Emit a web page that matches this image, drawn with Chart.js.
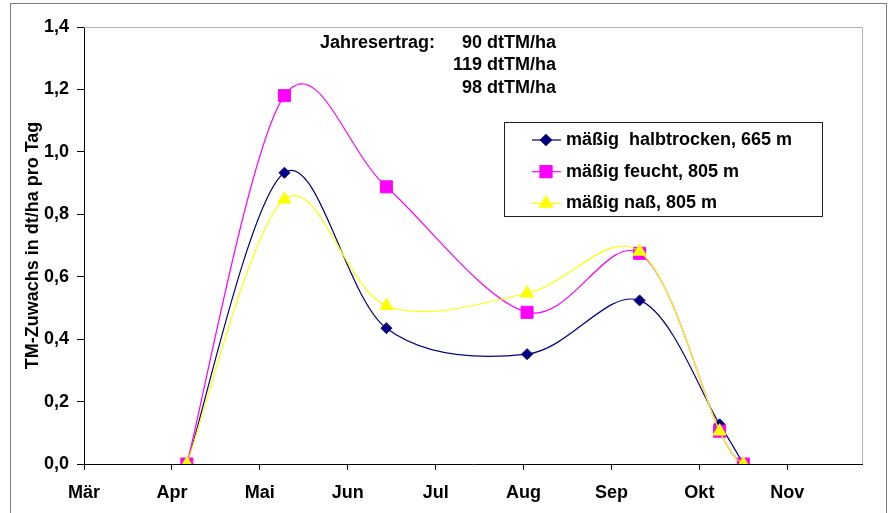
<!DOCTYPE html>
<html lang="de">
<head>
<meta charset="utf-8">
<title>TM-Zuwachs</title>
<script src="https://cdn.jsdelivr.net/npm/chart.js@4.4.1/dist/chart.umd.min.js"></script>
<style>
    html, body { margin: 0; padding: 0; background: #fff; }
    .chart-box { position: relative; width: 888px; height: 513px; }
</style>
</head>
<body>
<div class="chart-box"><canvas id="chart"></canvas></div>
<script>
// Chart data (x = months after 1 March)
const monthLabels = ['Mär', 'Apr', 'Mai', 'Jun', 'Jul', 'Aug', 'Sep', 'Okt', 'Nov'];
const samplePos = [1.17, 2.28, 3.44, 5.04, 6.32, 7.23, 7.5];
const halbtrocken = [0, 0.933, 0.435, 0.352, 0.524, 0.127, 0];
const feucht = [0, 1.18, 0.888, 0.486, 0.675, 0.105, 0];
const nass = [0, 0.848, 0.507, 0.547, 0.681, 0.105, 0];
const seriesNames = ['mäßig  halbtrocken, 665 m', 'mäßig feucht, 805 m', 'mäßig naß, 805 m'];
const ertragLabel = 'Jahresertrag:';
const ertragValues = ['90 dtTM/ha', '119 dtTM/ha', '98 dtTM/ha'];
const yTicks = [0, 0.2, 0.4, 0.6, 0.8, 1.0, 1.2, 1.4];

const FONT = "'Liberation Sans', Arial, sans-serif";
const FONT_SIZE = 18;
Chart.defaults.font.family = FONT;
Chart.defaults.font.size = FONT_SIZE;
Chart.defaults.font.weight = 'bold';
Chart.defaults.color = '#000';

function toPoints(values) {
    return values.map((v, i) => ({ x: samplePos[i], y: v }));
}

const seriesStyles = [
    { color: '#000080', pointStyle: 'rectRot', radius: 5.5 },
    { color: '#FF00FF', pointStyle: 'rect', radius: 8.5 },
    { color: '#FFFF00', pointStyle: 'triangle', radius: 7.5 }
];

const datasets = [halbtrocken, feucht, nass].map((values, i) => ({
    label: seriesNames[i],
    data: toPoints(values),
    borderColor: seriesStyles[i].color,
    backgroundColor: seriesStyles[i].color,
    borderWidth: 1.2,
    pointStyle: seriesStyles[i].pointStyle,
    pointRadius: seriesStyles[i].radius,
    pointBorderWidth: 1,
    tension: 0.4,
    order: 2 - i
}));

// Excel-like smoothing: control points = neighbour difference / 6
const smoothPlugin = {
    id: 'excelSmooth',
    beforeDatasetsDraw(chart) {
        chart.getSortedVisibleDatasetMetas().forEach(meta => {
            const pts = meta.data;
            pts.forEach((p, i) => {
                const prev = pts[Math.max(i - 1, 0)];
                const next = pts[Math.min(i + 1, pts.length - 1)];
                const dx = (next.x - prev.x) / 6;
                const dy = (next.y - prev.y) / 6;
                p.cp1x = p.x - dx;
                p.cp1y = p.y - dy;
                p.cp2x = p.x + dx;
                p.cp2y = p.y + dy;
            });
            meta.dataset._pointsUpdated = true;
            meta.dataset._path = undefined;
        });
    }
};

// Frames, annotation text and legend box
const decorPlugin = {
    id: 'decor',
    beforeDatasetsDraw(chart) {
        const { ctx, chartArea } = chart;
        ctx.save();
        ctx.lineWidth = 1;
        ctx.strokeStyle = '#7a7a7a';
        ctx.strokeRect(10.5, 3.5, 876, 530);
        ctx.strokeStyle = '#b4b4b4';
        ctx.beginPath();
        ctx.moveTo(chartArea.left, chartArea.top + 0.5);
        ctx.lineTo(chartArea.right + 0.5, chartArea.top + 0.5);
        ctx.lineTo(chartArea.right + 0.5, chartArea.bottom);
        ctx.stroke();
        ctx.restore();
    },
    afterDraw(chart) {
        const { ctx } = chart;
        ctx.save();
        ctx.font = `bold ${FONT_SIZE}px ${FONT}`;
        ctx.fillStyle = '#000';
        ctx.textBaseline = 'middle';
        ctx.textAlign = 'left';
        ctx.fillText(ertragLabel, 320, 43);
        ctx.textAlign = 'right';
        ertragValues.forEach((t, i) => ctx.fillText(t, 556, 43 + i * 22.5));

        // legend
        ctx.fillStyle = '#fff';
        ctx.fillRect(504.5, 122.5, 318, 94);
        ctx.strokeStyle = '#202020';
        ctx.lineWidth = 1;
        ctx.strokeRect(504.5, 122.5, 318, 94);
        chart.data.datasets.forEach((ds, i) => {
            const y = 140 + i * 31.7;
            ctx.strokeStyle = ds.borderColor;
            ctx.lineWidth = 1.2;
            ctx.beginPath();
            ctx.moveTo(532, y);
            ctx.lineTo(561, y);
            ctx.stroke();
            ctx.fillStyle = ds.backgroundColor;
            Chart.helpers.drawPoint(ctx, {
                pointStyle: ds.pointStyle,
                radius: ds.pointRadius,
                rotation: 0,
                borderWidth: 1
            }, 546, y);
            ctx.fillStyle = '#000';
            ctx.textAlign = 'left';
            ctx.fillText(ds.label, 566, y);
        });
        ctx.restore();
    }
};

new Chart(document.getElementById('chart'), {
    type: 'line',
    data: { datasets },
    plugins: [smoothPlugin, decorPlugin],
    options: {
        responsive: true,
        maintainAspectRatio: false,
        animation: false,
        layout: { padding: { left: 14, top: 27, right: 26, bottom: 0 } },
        plugins: {
            legend: { display: false },
            tooltip: { enabled: false }
        },
        scales: {
            x: {
                type: 'linear',
                min: 0,
                max: 8.85,
                afterFit: scale => { scale.height = 49; },
                afterBuildTicks: scale => {
                    scale.ticks = monthLabels.map((m, i) => ({ value: i }));
                },
                ticks: {
                    autoSkip: false,
                    maxRotation: 0,
                    padding: 12,
                    callback: value => monthLabels[value]
                },
                grid: { drawOnChartArea: false, drawTicks: true, tickLength: 6, color: '#000' },
                border: { color: '#000', width: 1 }
            },
            y: {
                min: 0,
                max: 1.4,
                afterFit: scale => { scale.width = 70; },
                afterBuildTicks: scale => {
                    scale.ticks = yTicks.map(v => ({ value: v }));
                },
                ticks: {
                    padding: 8,
                    callback: value => value.toFixed(1).replace('.', ',')
                },
                title: {
                    display: true,
                    text: 'TM-Zuwachs in dt/ha pro Tag',
                    font: { size: FONT_SIZE, weight: 'bold' },
                    color: '#000',
                    padding: { top: 8, bottom: 0 }
                },
                grid: { drawOnChartArea: false, drawTicks: true, tickLength: 7, color: '#000' },
                border: { color: '#000', width: 1 }
            }
        }
    }
});
</script>
</body>
</html>
